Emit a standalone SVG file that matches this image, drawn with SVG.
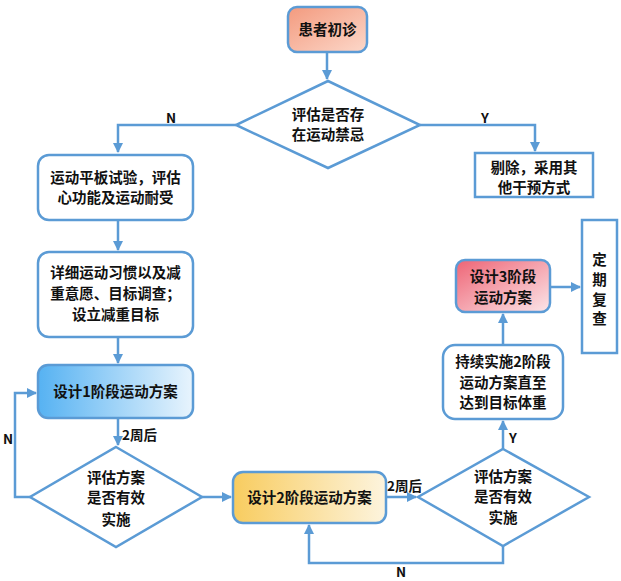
<svg xmlns="http://www.w3.org/2000/svg" width="621" height="581" viewBox="0 0 621 581">
<defs>
<linearGradient id="gSalmon" x1="0" y1="0" x2="1" y2="1"><stop offset="0" stop-color="#f39a7e"/><stop offset="1" stop-color="#fcd8ca"/></linearGradient>
<linearGradient id="gBlue" x1="0" y1="0" x2="1" y2="0"><stop offset="0" stop-color="#56b2f2"/><stop offset="1" stop-color="#e8f4fd"/></linearGradient>
<linearGradient id="gYellow" x1="0" y1="0" x2="1" y2="0"><stop offset="0" stop-color="#f8cc5f"/><stop offset="1" stop-color="#fdf4de"/></linearGradient>
<linearGradient id="gRed" x1="0" y1="0" x2="1" y2="1"><stop offset="0" stop-color="#ee6475"/><stop offset="1" stop-color="#fce6e9"/></linearGradient>
<marker id="arr" viewBox="0 0 10 10" refX="9" refY="5" markerWidth="4" markerHeight="4" orient="auto" markerUnits="strokeWidth">
<path d="M0,0 L10,5 L0,10 z" fill="#5b9bd5"/>
</marker>
</defs>
<style>
.node{stroke:#5b9bd5;stroke-width:2.5}
.w{fill:#ffffff}
.t{font-family:"Noto Sans CJK SC","Microsoft YaHei",sans-serif;font-weight:bold;font-size:14.5px;fill:#111;text-anchor:middle}
.lbl{font-family:"Noto Sans CJK SC",sans-serif;font-weight:bold;font-size:13.5px;fill:#111}
.c{fill:none;stroke:#5b9bd5;stroke-width:2.5}
</style>
<rect width="621" height="581" fill="#ffffff"/>
<g id="connectors">
<path class="c" d="M327,52 V79" marker-end="url(#arr)"/>
<path class="c" d="M236,125 H118 V152" marker-end="url(#arr)"/>
<path class="c" d="M420,125 H535 V151" marker-end="url(#arr)"/>
<path class="c" d="M118,220 V250" marker-end="url(#arr)"/>
<path class="c" d="M118,337 V363" marker-end="url(#arr)"/>
<path class="c" d="M118,418 V445" marker-end="url(#arr)"/>
<path class="c" d="M30,497 H15 V393 H36" marker-end="url(#arr)"/>
<path class="c" d="M202,497 H231" marker-end="url(#arr)"/>
<path class="c" d="M386,497 H416" marker-end="url(#arr)"/>
<path class="c" d="M503,546 V563 H309 V525" marker-end="url(#arr)"/>
<path class="c" d="M503,449 V421" marker-end="url(#arr)"/>
<path class="c" d="M503,345 V314" marker-end="url(#arr)"/>
<path class="c" d="M550,287 H580" marker-end="url(#arr)"/>
<text class="lbl" x="166" y="123">N</text>
<text class="lbl" x="481" y="123">Y</text>
<text class="lbl" x="122" y="440">2周后</text>
<text class="lbl" x="3" y="444">N</text>
<text class="lbl" x="387" y="491">2周后</text>
<text class="lbl" x="509" y="443">Y</text>
<text class="lbl" x="396" y="577">N</text>
</g>
<g id="n1"><rect class="node" x="288" y="7" width="79" height="45" rx="9" fill="url(#gSalmon)"/><text class="t" x="327.5" y="35">患者初诊</text></g>
<g id="d1"><polygon class="node w" points="328,81 420,125 328,168 236,125"/><text class="t" x="328" y="120">评估是否存</text><text class="t" x="328" y="140">在运动禁忌</text></g>
<g id="n2"><rect class="node w" x="38" y="155" width="155" height="65" rx="11"/><text class="t" x="115.5" y="183">运动平板试验，评估</text><text class="t" x="115.5" y="203">心功能及运动耐受</text></g>
<g id="n3"><rect class="node w" x="475" y="153" width="118" height="44"/><text class="t" x="534" y="173">剔除，采用其</text><text class="t" x="534" y="193">他干预方式</text></g>
<g id="n4"><rect class="node w" x="38" y="252" width="155" height="85" rx="11"/><text class="t" x="115.5" y="278">详细运动习惯以及减</text><text class="t" x="115.5" y="299">重意愿、目标调查；</text><text class="t" x="115.5" y="320">设立减重目标</text></g>
<g id="n5"><rect class="node" x="38" y="365" width="155" height="53" rx="10" fill="url(#gBlue)"/><text class="t" x="115.5" y="397">设计1阶段运动方案</text></g>
<g id="d2"><polygon class="node w" points="116,447 202,497 116,547 30,497"/><text class="t" x="116" y="483">评估方案</text><text class="t" x="116" y="503">是否有效</text><text class="t" x="116" y="525">实施</text></g>
<g id="n6"><rect class="node" x="233" y="472" width="153" height="51" rx="10" fill="url(#gYellow)"/><text class="t" x="309.5" y="503">设计2阶段运动方案</text></g>
<g id="d3"><polygon class="node w" points="503,449 589,497 503,546 418,497"/><text class="t" x="503" y="482">评估方案</text><text class="t" x="503" y="502">是否有效</text><text class="t" x="503" y="523">实施</text></g>
<g id="n7"><rect class="node w" x="443" y="345" width="120" height="74" rx="12"/><text class="t" x="503" y="367">持续实施2阶段</text><text class="t" x="503" y="388">运动方案直至</text><text class="t" x="503" y="408">达到目标体重</text></g>
<g id="n8"><rect class="node" x="456" y="260" width="94" height="52" rx="9" fill="url(#gRed)"/><text class="t" x="503" y="282">设计3阶段</text><text class="t" x="503" y="303">运动方案</text></g>
<g id="n9"><rect class="node w" x="582" y="220" width="35" height="133"/><text class="t" x="599.5" y="265">定</text><text class="t" x="599.5" y="285">期</text><text class="t" x="599.5" y="305">复</text><text class="t" x="599.5" y="324">查</text></g>
</svg>
